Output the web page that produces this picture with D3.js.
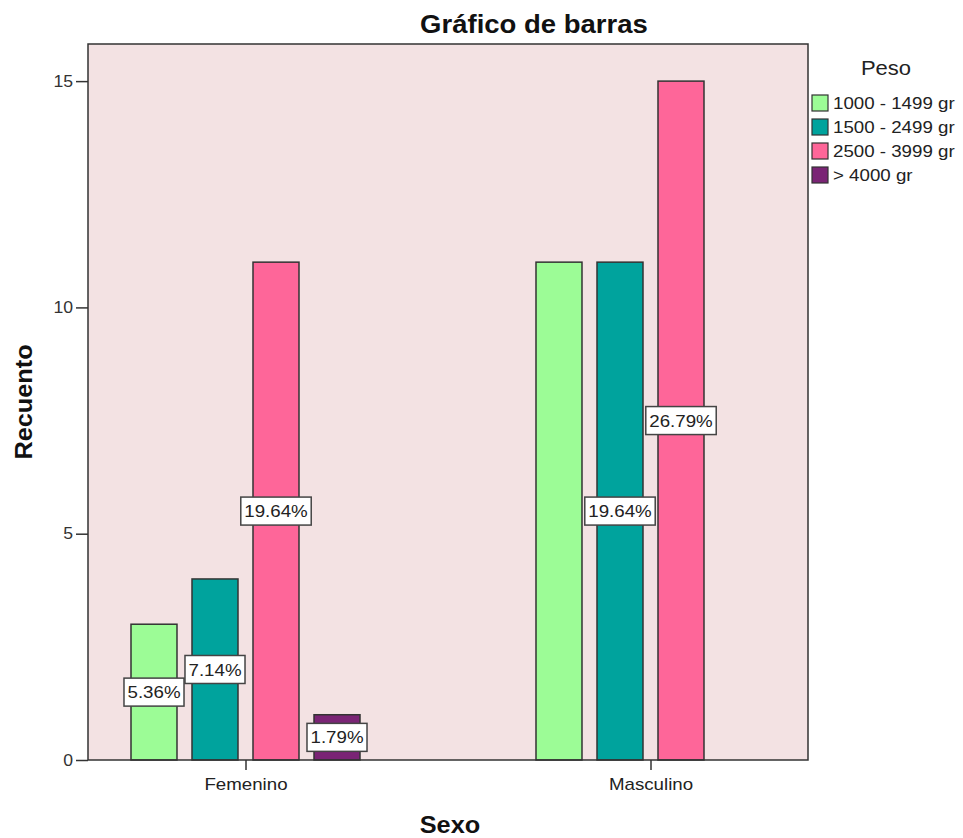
<!DOCTYPE html>
<html>
<head>
<meta charset="utf-8">
<script src="https://cdn.jsdelivr.net/npm/d3@7"></script>
<style>
  body { margin: 0; background: #fff; }
  svg { display: block; }
  text { font-family: "Liberation Sans", Arial, sans-serif; }
</style>
</head>
<body>
<svg id="chart" width="963" height="838"></svg>
<script>
// Recuento por sexo y peso al nacer
const categories = ["Femenino", "Masculino"];
const series = ["1000 - 1499 gr", "1500 - 2499 gr", "2500 - 3999 gr", "> 4000 gr"];
const peso1000 = [3, 11];
const peso1500 = [4, 11];
const peso2500 = [11, 15];
const peso4000 = [1, 0];
const seriesColors = ["#9cfc96", "#00a39d", "#fe6699", "#7a2475"];
const yTicks = [0, 5, 10, 15];
// labels SPSS suppressed because they collided with a neighbour
const hiddenLabels = [["Masculino", "1000 - 1499 gr"]];

const valuesBySeries = [peso1000, peso1500, peso2500, peso4000];
const total = d3.sum(valuesBySeries.flat());

const rows = [];
series.forEach((s, si) => {
  categories.forEach((c, ci) => {
    rows.push({ cat: c, ser: s, si, value: valuesBySeries[si][ci] });
  });
});

const svg = d3.select("#chart");
const W = 963, H = 838;
const plot = { left: 88, right: 808, top: 44, bottom: 760 };
const STRETCH = 1.1;

function stretch(sel) {
  sel.each(function () {
    const w = this.getComputedTextLength();
    this.setAttribute("textLength", w * STRETCH);
    this.setAttribute("lengthAdjust", "spacingAndGlyphs");
  });
  return sel;
}

const y = d3.scaleLinear().domain([0, 15.82]).range([plot.bottom, plot.top]);
const x = d3.scalePoint().domain(categories).range([245.5, 650.5]);
const xInner = d3.scaleBand().domain(series).range([-114.5, 114.5]).paddingInner(0.246);

// plot background
svg.append("rect")
  .attr("x", plot.left).attr("y", plot.top)
  .attr("width", plot.right - plot.left).attr("height", plot.bottom - plot.top)
  .attr("fill", "#f3e2e3");

// bars
const bars = rows.filter(d => d.value > 0);
svg.append("g").selectAll("rect").data(bars).join("rect")
  .attr("x", d => x(d.cat) + xInner(d.ser))
  .attr("y", d => y(d.value))
  .attr("width", xInner.bandwidth())
  .attr("height", d => y(0) - y(d.value))
  .attr("fill", d => seriesColors[d.si])
  .attr("stroke", "#333")
  .attr("stroke-width", 1.5);

// frame
svg.append("rect")
  .attr("x", plot.left).attr("y", plot.top)
  .attr("width", plot.right - plot.left).attr("height", plot.bottom - plot.top)
  .attr("fill", "none").attr("stroke", "#333").attr("stroke-width", 1.5);

// y axis
const yAxis = svg.append("g")
  .attr("transform", `translate(${plot.left},0)`)
  .call(d3.axisLeft(y).tickValues(yTicks).tickSize(12).tickPadding(3).tickFormat(d3.format("d")));
yAxis.select(".domain").remove();
yAxis.selectAll(".tick line").attr("stroke", "#333").attr("stroke-width", 1.5);
yAxis.selectAll(".tick text").attr("font-size", 16).attr("fill", "#333")
  .attr("font-family", "'Liberation Sans', Arial, sans-serif");
stretch(yAxis.selectAll(".tick text"));

// x axis
const xAxis = svg.append("g")
  .attr("transform", `translate(0,${plot.bottom})`)
  .call(d3.axisBottom(x).tickSize(10).tickPadding(8));
xAxis.select(".domain").remove();
xAxis.selectAll(".tick line").attr("stroke", "#333").attr("stroke-width", 1.5);
xAxis.selectAll(".tick text").attr("font-size", 17).attr("fill", "#222")
  .attr("font-family", "'Liberation Sans', Arial, sans-serif");
stretch(xAxis.selectAll(".tick text"));

// percentage labels
const labelRows = bars.filter(d => !hiddenLabels.some(h => h[0] === d.cat && h[1] === d.ser));
const lab = svg.append("g").selectAll("g").data(labelRows).join("g")
  .attr("transform", d => `translate(${x(d.cat) + xInner(d.ser) + xInner.bandwidth() / 2},${y(d.value / 2)})`);
const labText = lab.append("text")
  .attr("text-anchor", "middle").attr("dy", "0.36em")
  .attr("font-size", 17).attr("fill", "#222")
  .text(d => d3.format(".2f")(d.value / total * 100) + "%");
stretch(labText);
lab.insert("rect", "text")
  .each(function () {
    const t = this.parentNode.querySelector("text");
    const w = +t.getAttribute("textLength") + 7;
    d3.select(this).attr("x", -w / 2).attr("y", -14).attr("width", w).attr("height", 28);
  })
  .attr("fill", "#fff").attr("stroke", "#444").attr("stroke-width", 1.5);

// title
stretch(svg.append("text")
  .attr("x", 534).attr("y", 33).attr("text-anchor", "middle")
  .attr("font-size", 25).attr("font-weight", "bold").attr("fill", "#111")
  .text("Gráfico de barras"));

// axis titles
stretch(svg.append("text")
  .attr("x", 450).attr("y", 833).attr("text-anchor", "middle")
  .attr("font-size", 23).attr("font-weight", "bold").attr("fill", "#111")
  .text("Sexo"));
stretch(svg.append("text")
  .attr("transform", `translate(32,${(plot.top + plot.bottom) / 2}) rotate(-90)`)
  .attr("text-anchor", "middle")
  .attr("font-size", 23).attr("font-weight", "bold").attr("fill", "#111")
  .text("Recuento"));

// legend
const legend = svg.append("g").attr("transform", "translate(812,0)");
stretch(legend.append("text")
  .attr("x", 74).attr("y", 75).attr("text-anchor", "middle")
  .attr("font-size", 20).attr("fill", "#222").text("Peso"));
const item = legend.selectAll("g.item").data(series).join("g")
  .attr("class", "item")
  .attr("transform", (d, i) => `translate(0,${103 + i * 24})`);
item.append("rect")
  .attr("x", 0).attr("y", -8).attr("width", 16).attr("height", 16)
  .attr("fill", (d, i) => seriesColors[i])
  .attr("stroke", "#333").attr("stroke-width", 1.2);
stretch(item.append("text")
  .attr("x", 21).attr("dy", "0.36em")
  .attr("font-size", 17).attr("fill", "#222")
  .text(d => d));
</script>
</body>
</html>
